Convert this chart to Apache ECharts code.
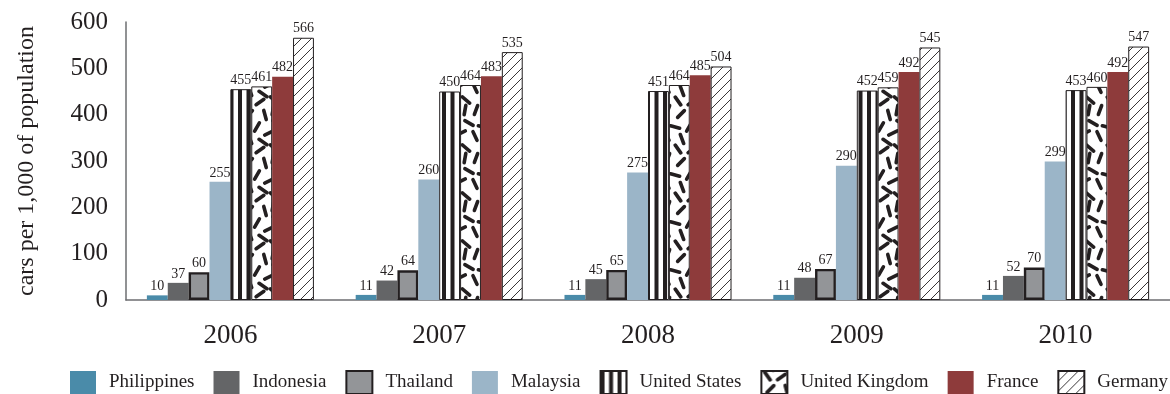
<!DOCTYPE html>
<html>
<head>
<meta charset="utf-8">
<script src="https://cdn.jsdelivr.net/npm/echarts@6/dist/echarts.min.js"></script>
<style>
  html, body { margin: 0; padding: 0; background: #ffffff; }
  #chart { width: 1170px; height: 394px; }
</style>
</head>
<body>
<div id="chart"></div>
<script>
// Car ownership, cars per 1,000 of population
const years = ['2006', '2007', '2008', '2009', '2010'];
const countries = ['Philippines', 'Indonesia', 'Thailand', 'Malaysia',
                   'United States', 'United Kingdom', 'France', 'Germany'];
const philippines   = [10, 11, 11, 11, 11];
const indonesia     = [37, 42, 45, 48, 52];
const thailand      = [60, 64, 65, 67, 70];
const malaysia      = [255, 260, 275, 290, 299];
const unitedStates  = [455, 450, 451, 452, 453];
const unitedKingdom = [461, 464, 464, 459, 460];
const france        = [482, 483, 485, 492, 492];
const germany       = [566, 535, 504, 545, 547];
const yMin = 0, yMax = 600, yStep = 100;
const yTitle = 'cars per 1,000 of population';

const INK = '#231f20';
const FONT = '"Liberation Serif", "DejaVu Serif", serif';

// ---- fill textures -------------------------------------------------------
function makeCanvas(w, h) {
  const c = document.createElement('canvas');
  c.width = w; c.height = h;
  const ctx = c.getContext('2d');
  ctx.fillStyle = '#ffffff';
  ctx.fillRect(0, 0, w, h);
  return [c, ctx];
}

// vertical black/white stripes
function stripeTexture() {
  const [c, ctx] = makeCanvas(17, 4);
  ctx.fillStyle = INK;
  ctx.fillRect(0, 0, 4, 4);
  ctx.fillRect(8.5, 0, 4, 4);
  return c;
}

// thin forward-slash hatching
function hatchTexture() {
  const s = 10;
  const [c, ctx] = makeCanvas(s, s);
  ctx.strokeStyle = INK;
  ctx.lineWidth = 0.9;
  ctx.beginPath();
  for (const o of [-s, 0, s]) {
    ctx.moveTo(o - 1, s + 1);
    ctx.lineTo(o + s + 1, -1);
  }
  ctx.stroke();
  return c;
}

// scattered short thick dashes
function dashTexture() {
  const s = 48;
  const [c, ctx] = makeCanvas(s, s);
  const dashes = [
    [6, 5, 55], [20, 6, -35], [34, 4, 40], [44, 14, -70],
    [9, 18, -45], [25, 19, 75], [37, 27, 30], [3, 31, 15],
    [17, 31, -60], [29, 37, -25], [43, 40, 65], [10, 43, 70],
    [23, 46, 35], [33, 14, -80]
  ];
  ctx.strokeStyle = INK;
  ctx.lineWidth = 3.6;
  ctx.lineCap = 'round';
  const len = 9.5;
  for (const [x, y, a] of dashes) {
    const r = a * Math.PI / 180;
    const dx = Math.cos(r) * len / 2, dy = Math.sin(r) * len / 2;
    for (const ox of [-s, 0, s]) {
      for (const oy of [-s, 0, s]) {
        ctx.beginPath();
        ctx.moveTo(x + ox - dx, y + oy - dy);
        ctx.lineTo(x + ox + dx, y + oy + dy);
        ctx.stroke();
      }
    }
  }
  return c;
}

const stripes = { image: stripeTexture(), repeat: 'repeat' };
const hatch   = { image: hatchTexture(),  repeat: 'repeat' };
const dashes  = { image: dashTexture(),   repeat: 'repeat' };

const seriesData = [philippines, indonesia, thailand, malaysia,
                    unitedStates, unitedKingdom, france, germany];
const seriesStyle = [
  { color: '#4a8ba9' },
  { color: '#646567' },
  { color: '#939598', borderColor: INK, borderWidth: 2.4 },
  { color: '#9bb5c8' },
  { color: stripes, borderColor: INK, borderWidth: 1 },
  { color: dashes,  borderColor: INK, borderWidth: 1 },
  { color: '#8e3b3b' },
  { color: hatch,   borderColor: INK, borderWidth: 1 }
];

const series = countries.map((name, i) => ({
  name: name,
  type: 'bar',
  data: seriesData[i],
  barGap: '0%',
  barCategoryGap: '20%',
  itemStyle: seriesStyle[i],
  label: {
    show: true,
    position: 'top',
    distance: 2,
    color: INK,
    fontFamily: FONT,
    fontSize: 14
  },
  emphasis: { disabled: true }
}));

const chart = echarts.init(document.getElementById('chart'), null, { renderer: 'canvas' });
chart.setOption({
  animation: false,
  backgroundColor: '#ffffff',
  grid: { left: 126, top: 22, width: 1055, height: 278, containLabel: false },
  legend: {
    data: countries,
    left: 70,
    top: 370,
    width: 1160,
    padding: 0,
    icon: 'rect',
    itemWidth: 26,
    itemHeight: 23,
    itemGap: 19,
    textStyle: { color: INK, fontFamily: FONT, fontSize: 19, padding: [0, 0, 0, 8] }
  },
  xAxis: {
    type: 'category',
    data: years,
    axisLine: { show: true, lineStyle: { color: '#6d6e71', width: 1.5 } },
    axisTick: { show: false },
    axisLabel: { color: INK, fontFamily: FONT, fontSize: 27, margin: 22 }
  },
  yAxis: {
    type: 'value',
    min: yMin,
    max: yMax,
    interval: yStep,
    name: yTitle,
    nameLocation: 'middle',
    nameGap: 87,
    nameTextStyle: { color: INK, fontFamily: FONT, fontSize: 24 },
    axisLine: { show: true, lineStyle: { color: '#6d6e71', width: 1.5 } },
    axisTick: { show: false },
    splitLine: { show: false },
    axisLabel: { color: INK, fontFamily: FONT, fontSize: 25, margin: 18 }
  },
  series: series
});
</script>
</body>
</html>
